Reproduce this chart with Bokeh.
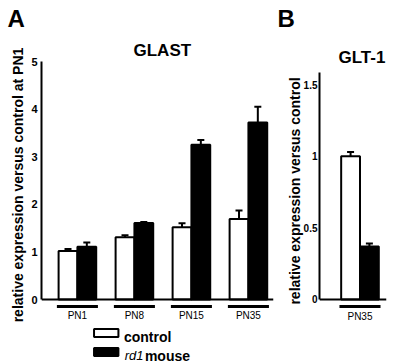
from bokeh.plotting import figure
from bokeh.models import (Range1d, Span, Whisker, TeeHead, ColumnDataSource, FixedTicker)
from bokeh.layouts import row, column
from bokeh.core.properties import value
from bokeh.embed import file_html
from bokeh.resources import INLINE

# ---------------- data ----------------
glast_ages = ["PN1", "PN8", "PN15", "PN35"]
glast_control = [1.02, 1.31, 1.52, 1.69]
glast_control_err = [0.04, 0.04, 0.08, 0.18]
glast_rd1 = [1.11, 1.61, 3.25, 3.72]
glast_rd1_err = [0.09, 0.02, 0.10, 0.33]
glast_yticks = [0, 1, 2, 3, 4, 5]

glt1_ages = ["PN35"]
glt1_control = [1.00]
glt1_control_err = [0.03]
glt1_rd1 = [0.37]
glt1_rd1_err = [0.02]
glt1_yticks = [0, 0.5, 1, 1.5]

series_names = ["control", "rd1", "mouse"]
panel_letters = ["A", "B"]

FONT = "Liberation Sans"


def bare(width, height):
    p = figure(width=width, height=height, x_range=Range1d(0, width),
               y_range=Range1d(0, height), x_axis_type=None, y_axis_type=None,
               min_border=0, output_backend="svg", toolbar_location=None,
               background_fill_color="white", border_fill_color="white")
    p.outline_line_color = None
    p.grid.visible = False
    return p


def panel(title, ages, ctrl, ctrl_err, rd1, rd1_err, yticks, ylabel,
          x_range, y_range, y_top, width, height, borders, title_offset,
          title_standoff, tick_standoff, tick_size, label_standoff):
    bl, br, bt, bb = borders
    p = figure(width=width, height=height,
               x_range=Range1d(*x_range), y_range=Range1d(*y_range),
               min_border_left=bl, min_border_right=br, min_border_top=bt,
               min_border_bottom=bb, output_backend="svg", toolbar_location=None,
               background_fill_color="white", border_fill_color="white")
    p.outline_line_color = None
    p.grid.visible = False

    n = len(ages)
    xs = list(range(n))
    half = 0.165
    src_c = ColumnDataSource(dict(x=[i - half for i in xs], top=ctrl,
                                  hi=[v + e for v, e in zip(ctrl, ctrl_err)]))
    src_r = ColumnDataSource(dict(x=[i + half for i in xs], top=rd1,
                                  hi=[v + e for v, e in zip(rd1, rd1_err)]))

    p.vbar(x="x", top="top", bottom=0, width=0.33, source=src_c,
           fill_color="white", line_color="black", line_width=2)
    p.vbar(x="x", top="top", bottom=0, width=0.33, source=src_r,
           fill_color="black", line_color="black", line_width=2)

    for src in (src_c, src_r):
        w = Whisker(base="x", lower="top", upper="hi", source=src,
                    line_width=2, line_color="black", lower_head=None,
                    upper_head=TeeHead(size=7, line_width=2, line_color="black"))
        p.add_layout(w)

    p.add_layout(Span(location=0, dimension="width", line_color="black", line_width=2))

    frame_h = height - bt - bb
    ppu = frame_h / (y_range[1] - y_range[0])
    yu = -7.0 / ppu
    p.segment(x0=[i - 0.36 for i in xs], x1=[i + 0.36 for i in xs],
              y0=[yu] * n, y1=[yu] * n, line_color="black", line_width=3)

    for ax in (p.xaxis[0], p.yaxis[0]):
        ax.major_tick_out = 0
        ax.major_tick_in = 0
        ax.minor_tick_out = 0
        ax.minor_tick_in = 0
        ax.major_tick_line_color = None
        ax.minor_tick_line_color = None

    xa = p.xaxis[0]
    xa.ticker = FixedTicker(ticks=xs)
    xa.major_label_overrides = {i: a for i, a in zip(xs, ages)}
    xa.axis_line_color = None
    xa.major_label_standoff = 1
    xa.major_label_text_font = FONT
    xa.major_label_text_font_size = "10px"
    xa.major_label_text_color = "black"

    ya = p.yaxis[0]
    ya.ticker = FixedTicker(ticks=yticks)
    ya.major_label_overrides = {t: ("%g" % t) for t in yticks}
    ya.bounds = (0, y_top)
    ya.axis_line_width = 2
    ya.axis_line_color = "black"
    ya.major_label_standoff = tick_standoff
    ya.major_label_text_font = FONT
    ya.major_label_text_font_size = tick_size
    ya.major_label_text_font_style = "bold"
    ya.major_label_text_color = "black"
    ya.axis_label = ylabel
    ya.axis_label_text_font = FONT
    ya.axis_label_text_font_size = "14px"
    ya.axis_label_text_font_style = "bold"
    ya.axis_label_text_color = "black"
    ya.axis_label_standoff = label_standoff

    p.title.text = title
    p.title.text_font = FONT
    p.title.text_font_size = "17px"
    p.title.text_font_style = "bold"
    p.title.text_color = "black"
    p.title.align = "left"
    p.title.offset = title_offset
    p.title.standoff = title_standoff
    return p


HEAD = 36  # header strip height

pA = panel("GLAST", glast_ages, glast_control, glast_control_err,
           glast_rd1, glast_rd1_err, glast_yticks,
           "relative expression versus control at PN1",
           x_range=(-0.63, 3.44), y_range=(-0.1883, 5.0), y_top=5,
           width=276, height=323 - HEAD, borders=(41, 3, 61 - HEAD, 14),
           title_offset=92, title_standoff=3, tick_standoff=4, tick_size="11px",
           label_standoff=2)

pB = panel("GLT-1", glt1_ages, glt1_control, glt1_control_err,
           glt1_rd1, glt1_rd1_err, glt1_yticks,
           "relative expression versus control",
           x_range=(-0.71, 0.465), y_range=(-0.0698, 1.584), y_top=1.584,
           width=124, height=364 - HEAD, borders=(43, 14, 72 - HEAD, 55),
           title_offset=19, title_standoff=11, tick_standoff=2, tick_size="10px",
           label_standoff=-2)

# header with panel letters
header = bare(400, HEAD)
header.text(x=[7, 277], y=[HEAD - 17.5, HEAD - 17.5], text=panel_letters,
            text_font=value(FONT), text_font_size="24px", text_font_style="bold",
            text_color="black", text_baseline="middle", text_align="left")

# legend strip below panel A
leg = bare(276, 41)
leg.rect(x=[77, 77], y=[31.5, 12.5], width=29, height=8,
         fill_color=["white", "black"], line_color="black", line_width=2)
leg.text(x=[98], y=[28], text=[series_names[0]], text_font=value(FONT),
         text_font_size="14px", text_font_style="bold", text_color="black",
         text_baseline="alphabetic")
leg.text(x=[99], y=[9], text=[series_names[1]], text_font=value(FONT),
         text_font_size="13px", text_font_style="italic", text_color="black",
         text_baseline="alphabetic")
leg.text(x=[123], y=[9], text=[series_names[2]], text_font=value(FONT),
         text_font_size="14px", text_font_style="bold", text_color="black",
         text_baseline="alphabetic")

layout = column(header, row(column(pA, leg, spacing=0), pB, spacing=0), spacing=0)
open("out.html", "w").write(file_html(layout, INLINE))
